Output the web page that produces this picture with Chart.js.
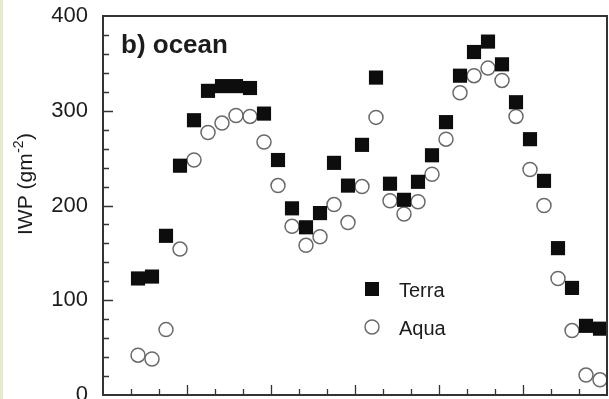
<!DOCTYPE html>
<html>
<head>
<meta charset="utf-8">
<script src="https://cdn.jsdelivr.net/npm/chart.js@4.4.0/dist/chart.umd.min.js"></script>
<style>
  html, body { margin: 0; padding: 0; background: #fff; }
  #wrap { position: relative; width: 609px; height: 399px; overflow: hidden; }
  #edge { position: absolute; left: 0; top: 0; width: 3px; height: 399px; background: #e5ebcb; }
  canvas { position: absolute; left: 0; top: 0; }
</style>
</head>
<body>
<div id="wrap"><canvas id="chart" width="609" height="399"></canvas><div id="edge"></div></div>
<script>
// ---- data ----
const LATITUDES = [-77.5, -72.5, -67.5, -62.5, -57.5, -52.5, -47.5, -42.5, -37.5, -32.5,
  -27.5, -22.5, -17.5, -12.5, -7.5, -2.5, 2.5, 7.5, 12.5, 17.5,
  22.5, 27.5, 32.5, 37.5, 42.5, 47.5, 52.5, 57.5, 62.5, 67.5,
  72.5, 77.5, 82.5, 87.5];
const TERRA = [123, 125, 168, 242, 290, 321, 326, 326, 324, 297,
  248, 197, 177, 192, 245, 221, 264, 335, 223, 206,
  225, 253, 288, 337, 362, 373, 349, 309, 270, 226,
  155, 113, 73, 70];
const AQUA = [42, 38, 69, 154, 248, 277, 287, 295, 294, 267,
  221, 178, 158, 167, 201, 182, 220, 293, 205, 191,
  204, 233, 270, 319, 337, 345, 332, 294, 238, 200,
  123, 68, 21, 16];
const Y_TICKS = [0, 100, 200, 300, 400];
const X_MAJOR = [-60, -30, 0, 30, 60];
const PANEL_LABEL = 'b) ocean';

const FONT = '"Liberation Sans", Arial, Helvetica, sans-serif';
const INK = '#1c1c1c';

function toPoints(values) {
  return values.map((v, i) => ({ x: LATITUDES[i], y: v }));
}

// inward ticks, frame, panel label, y title and legend
const decorations = {
  id: 'decorations',
  afterDraw(chart) {
    const { ctx, chartArea: a, scales: { x, y } } = chart;
    ctx.save();

    // ticks
    ctx.strokeStyle = '#333';
    ctx.lineWidth = 1.3;
    ctx.beginPath();
    for (let v = 20; v < 400; v += 20) {
      const py = Math.round(y.getPixelForValue(v)) + 0.5;
      const len = v % 100 === 0 ? 10 : 6;
      ctx.moveTo(a.left, py);
      ctx.lineTo(a.left + len, py);
    }
    for (let v = -80; v <= 80; v += 10) {
      const px = Math.round(x.getPixelForValue(v)) + 0.5;
      const len = X_MAJOR.includes(v) ? 10 : 6;
      ctx.moveTo(px, a.bottom);
      ctx.lineTo(px, a.bottom - len);
    }
    ctx.stroke();

    // frame
    ctx.strokeStyle = '#333';
    ctx.lineWidth = 2;
    ctx.strokeRect(a.left, a.top, a.right - a.left, a.bottom - a.top);

    // panel label
    ctx.fillStyle = INK;
    ctx.font = 'bold 26px ' + FONT;
    ctx.textAlign = 'left';
    ctx.textBaseline = 'alphabetic';
    ctx.fillText(PANEL_LABEL, 121, 53);

    // y axis title with superscript
    ctx.save();
    ctx.translate(32, 235);
    ctx.rotate(-Math.PI / 2);
    ctx.font = '21px ' + FONT;
    const main = 'IWP (gm';
    ctx.fillText(main, 0, 0);
    let w = ctx.measureText(main).width;
    ctx.font = '14px ' + FONT;
    ctx.fillText('-2', w + 0.5, -9);
    w += ctx.measureText('-2').width + 1;
    ctx.font = '21px ' + FONT;
    ctx.fillText(')', w, 0);
    ctx.restore();

    // legend
    const ds = chart.data.datasets;
    const lx = 372;
    const rows = [289, 327];
    ds.forEach((d, i) => {
      const cy = rows[i];
      if (d.pointStyle === 'rect') {
        ctx.fillStyle = d.backgroundColor;
        ctx.fillRect(lx - 7, cy - 7, 14, 14);
      } else {
        ctx.beginPath();
        ctx.arc(lx, cy, 7, 0, Math.PI * 2);
        ctx.strokeStyle = d.borderColor;
        ctx.lineWidth = d.borderWidth;
        ctx.stroke();
      }
      ctx.fillStyle = INK;
      ctx.font = '20px ' + FONT;
      ctx.fillText(d.label, 399, cy + 8);
    });

    ctx.restore();
  }
};

new Chart(document.getElementById('chart'), {
  type: 'scatter',
  data: {
    datasets: [
      {
        label: 'Terra',
        data: toPoints(TERRA),
        pointStyle: 'rect',
        pointRadius: 10,
        pointHoverRadius: 10,
        backgroundColor: '#0d0d0d',
        borderColor: '#0d0d0d',
        borderWidth: 0,
        clip: false,
      },
      {
        label: 'Aqua',
        data: toPoints(AQUA),
        pointStyle: 'circle',
        pointRadius: 7,
        pointHoverRadius: 7,
        backgroundColor: 'rgba(255,255,255,0)',
        borderColor: '#6a6a6a',
        borderWidth: 1.5,
        clip: false,
      },
    ]
  },
  options: {
    responsive: false,
    animation: false,
    devicePixelRatio: 1,
    layout: { autoPadding: false, padding: { left: 0, top: 16, right: 2, bottom: 0 } },
    plugins: { legend: { display: false }, tooltip: { enabled: false } },
    scales: {
      x: {
        type: 'linear',
        min: -90,
        max: 90,
        grid: { display: false, drawTicks: false },
        border: { display: false },
        ticks: { display: false },
        afterFit(scale) {
          scale.height = 4;
          scale.paddingLeft = scale.paddingRight = 0;
        }
      },
      y: {
        min: 0,
        max: 400,
        grid: { display: false, drawTicks: false },
        border: { display: false },
        afterBuildTicks(scale) {
          scale.ticks = Y_TICKS.map(v => ({ value: v }));
        },
        ticks: {
          padding: 15,
          color: INK,
          font: { family: FONT, size: 22 },
        },
        afterFit(scale) {
          scale.width = 103;
          scale.paddingTop = scale.paddingBottom = 0;
        }
      }
    }
  },
  plugins: [decorations]
});
</script>
</body>
</html>
